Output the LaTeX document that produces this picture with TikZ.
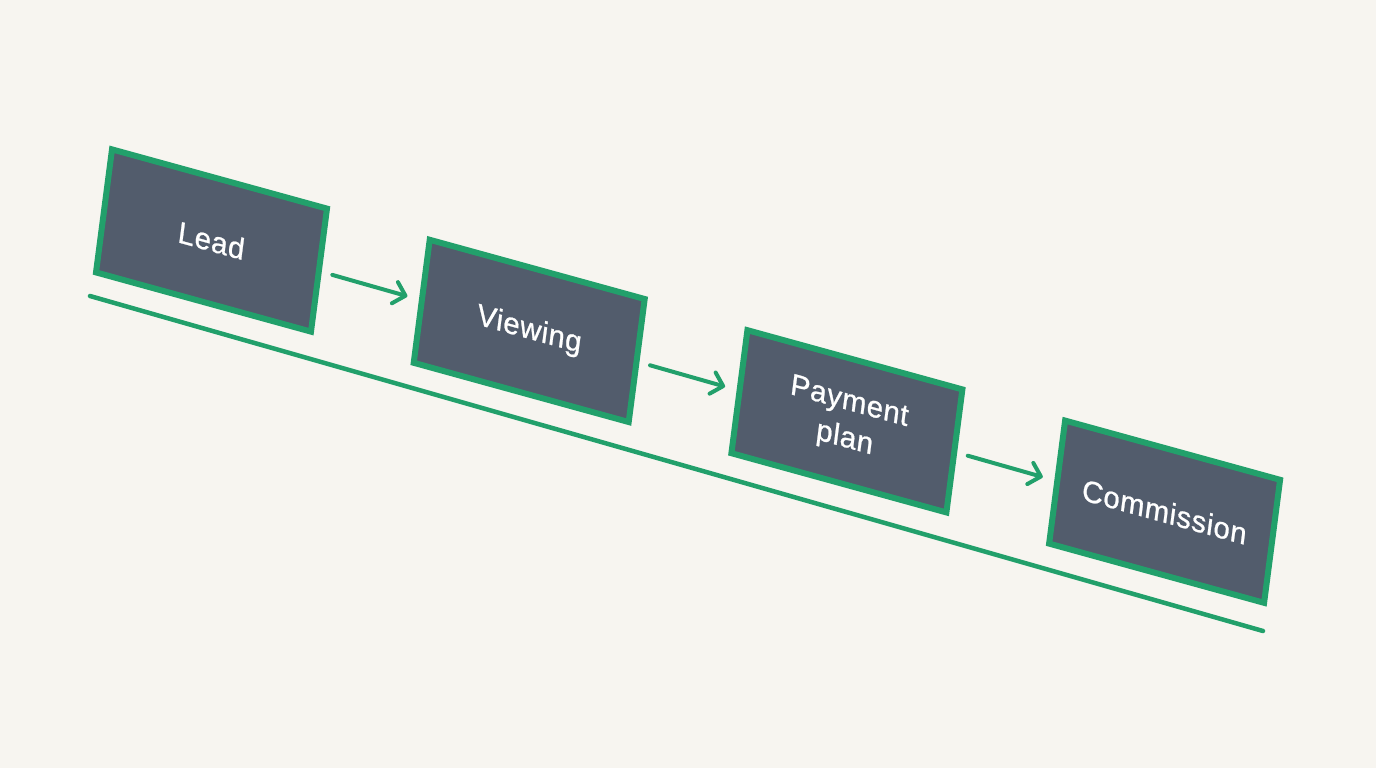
\documentclass[tikz,border=0pt]{standalone}
\usepackage{fontspec}
\setmainfont{Liberation Sans}[FakeBold=0.8, LetterSpace=2]
\usetikzlibrary{arrows.meta}
\definecolor{bgc}{HTML}{F7F5F0}
\definecolor{boxfill}{HTML}{525C6C}
\definecolor{grn}{HTML}{22A06B}
\tikzset{
  stagebox/.style={draw=grn, line width=6pt, fill=boxfill, text=white,
    minimum width=223pt, minimum height=124pt, inner sep=0pt, align=center,
    font=\fontsize{30}{37}\selectfont, transform shape},
  flowarrow/.style={draw=grn, line width=4pt, line cap=round,
    -{Straight Barb[length=11pt, width=22pt, line cap=round, line join=round]},
    shorten <=11pt, shorten >=12pt},
  baseline/.style={draw=grn, line width=4.5pt, line cap=round},
  skew/.style={cm={0.964,-0.2656,0.129,0.992,(0,0)}}
}
\begin{document}
\begin{tikzpicture}[x=1pt, y=-1pt]
  \fill[bgc] (0,0) rectangle (1376,768);
  \useasboundingbox (0,0) rectangle (1376,768);
  \coordinate (l1) at (90,296);
  \coordinate (l2) at (1263,631);
  \draw[baseline] (l1) -- (l2);
  \begin{scope}[shift={(211.5,240.5)}, skew]
    \node[stagebox] (lead) at (0,0) {Lead};
  \end{scope}
  \begin{scope}[shift={(529.2,330.9)}, skew]
    \node[stagebox] (view) at (0,0) {Viewing};
  \end{scope}
  \begin{scope}[shift={(846.9,421.3)}, skew]
    \node[stagebox] (pay) at (0,0) {Payment\\plan};
  \end{scope}
  \begin{scope}[shift={(1164.6,511.7)}, skew]
    \node[stagebox] (comm) at (0,0) {Commission};
  \end{scope}
  \draw[flowarrow] (lead) -- (view);
  \draw[flowarrow] (view) -- (pay);
  \draw[flowarrow] (pay) -- (comm);
\end{tikzpicture}
\end{document}
